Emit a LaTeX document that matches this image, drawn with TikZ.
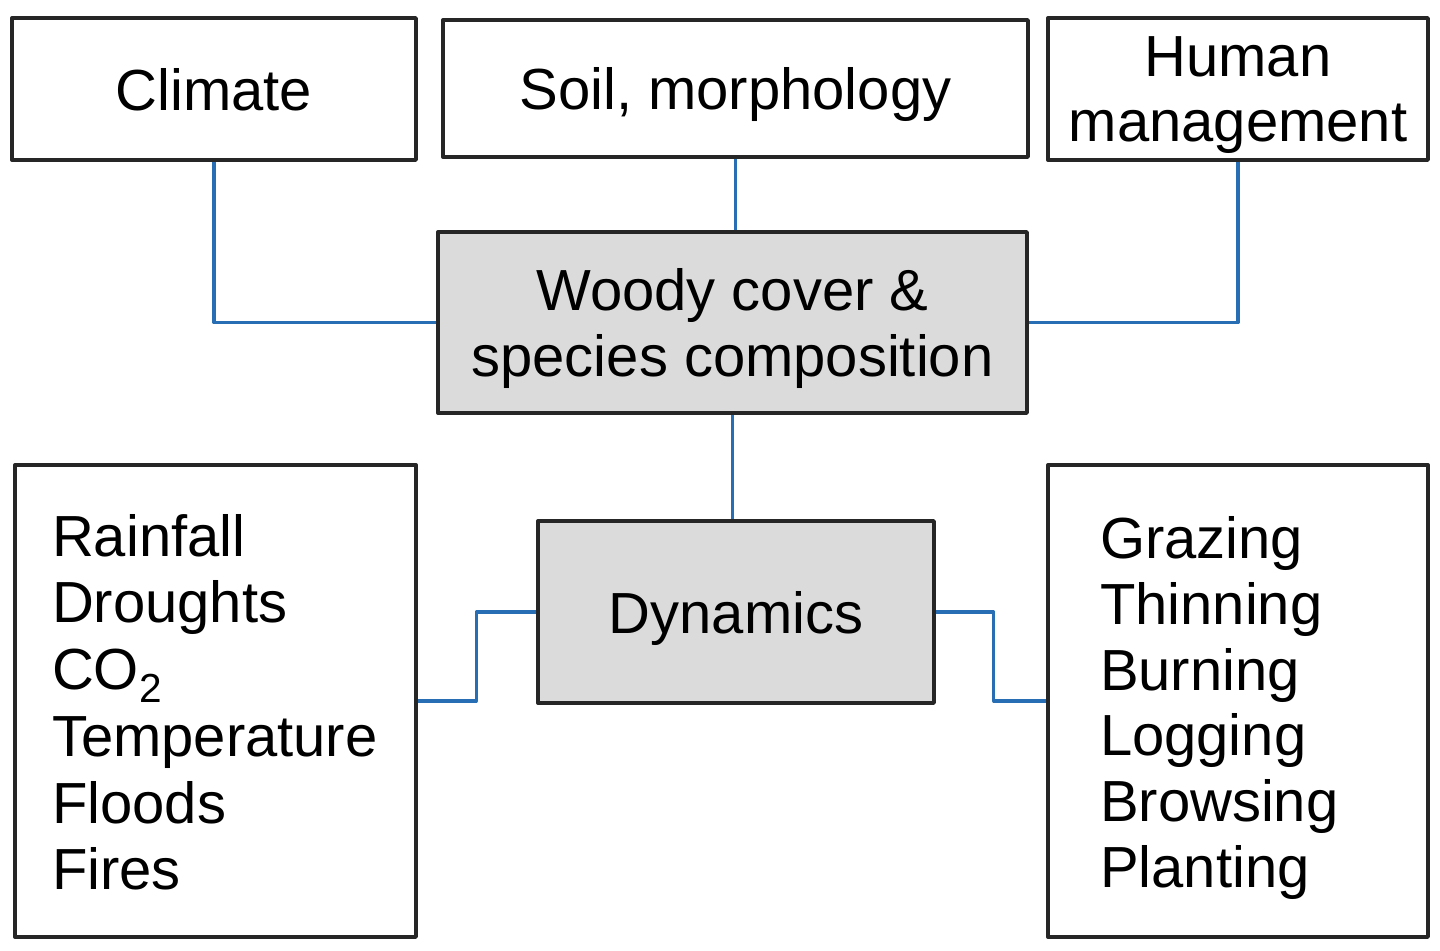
\documentclass[tikz,border=0pt]{standalone}
\usepackage{fontspec}
\setmainfont{Liberation Sans}
\definecolor{linkblue}{RGB}{40,110,180}
\begin{document}
\begin{tikzpicture}[x=0.02cm,y=-0.02cm,line join=round,font=\fontsize{33}{37.5}\selectfont,
    box/.style={draw=black!85,line width=2pt,inner sep=0pt,align=center,text depth=0pt},
    gbox/.style={box,fill=gray!28},
    listbox/.style={box,minimum height=9.44cm,align=left,text height=25pt},
    link/.style={draw=linkblue,line width=1.8pt}]
    \useasboundingbox (0,0) rectangle (1440,950);
    % top row
    \node[box,minimum width=8.08cm,minimum height=2.84cm] (clim) at (214,89) {Climate};
    \node[box,minimum width=11.7cm,minimum height=2.74cm] (soil) at (735.5,88.5) {Soil, morphology};
    \node[box,minimum width=7.6cm,minimum height=2.84cm] (human) at (1238,89) {Human\\management};
    % middle
    \node[gbox,minimum width=11.78cm,minimum height=3.62cm] (woody) at (732.5,322.5) {Woody cover \&\\species composition};
    \node[gbox,minimum width=7.92cm,minimum height=3.64cm] (dyn) at (736,612) {Dynamics};
    % lists
    \node[listbox,text width=6.54cm,inner xsep=0.74cm,text depth=190pt,font=\fontsize{33}{38}\selectfont] (lft) at (215.5,701) {Rainfall\\Droughts\\CO\textsubscript{2}\\Temperature\\Floods\\Fires};
    \node[listbox,text width=5.52cm,inner xsep=1.04cm,text depth=187.5pt] (rgt) at (1238,701) {Grazing\\Thinning\\Burning\\Logging\\Browsing\\Planting};
    % links
    \draw[link] (clim.south) |- (woody.west);
    \draw[link] (human.south) |- (woody.east);
    \draw[link] (soil.south) -- (soil.south |- woody.north);
    \draw[link] (woody.south) -- (woody.south |- dyn.north);
    \draw[link] (dyn.west) -- ++(-60,0) |- (lft.east);
    \draw[link] (dyn.east) -- ++(58,0) |- (rgt.west);
\end{tikzpicture}
\end{document}
